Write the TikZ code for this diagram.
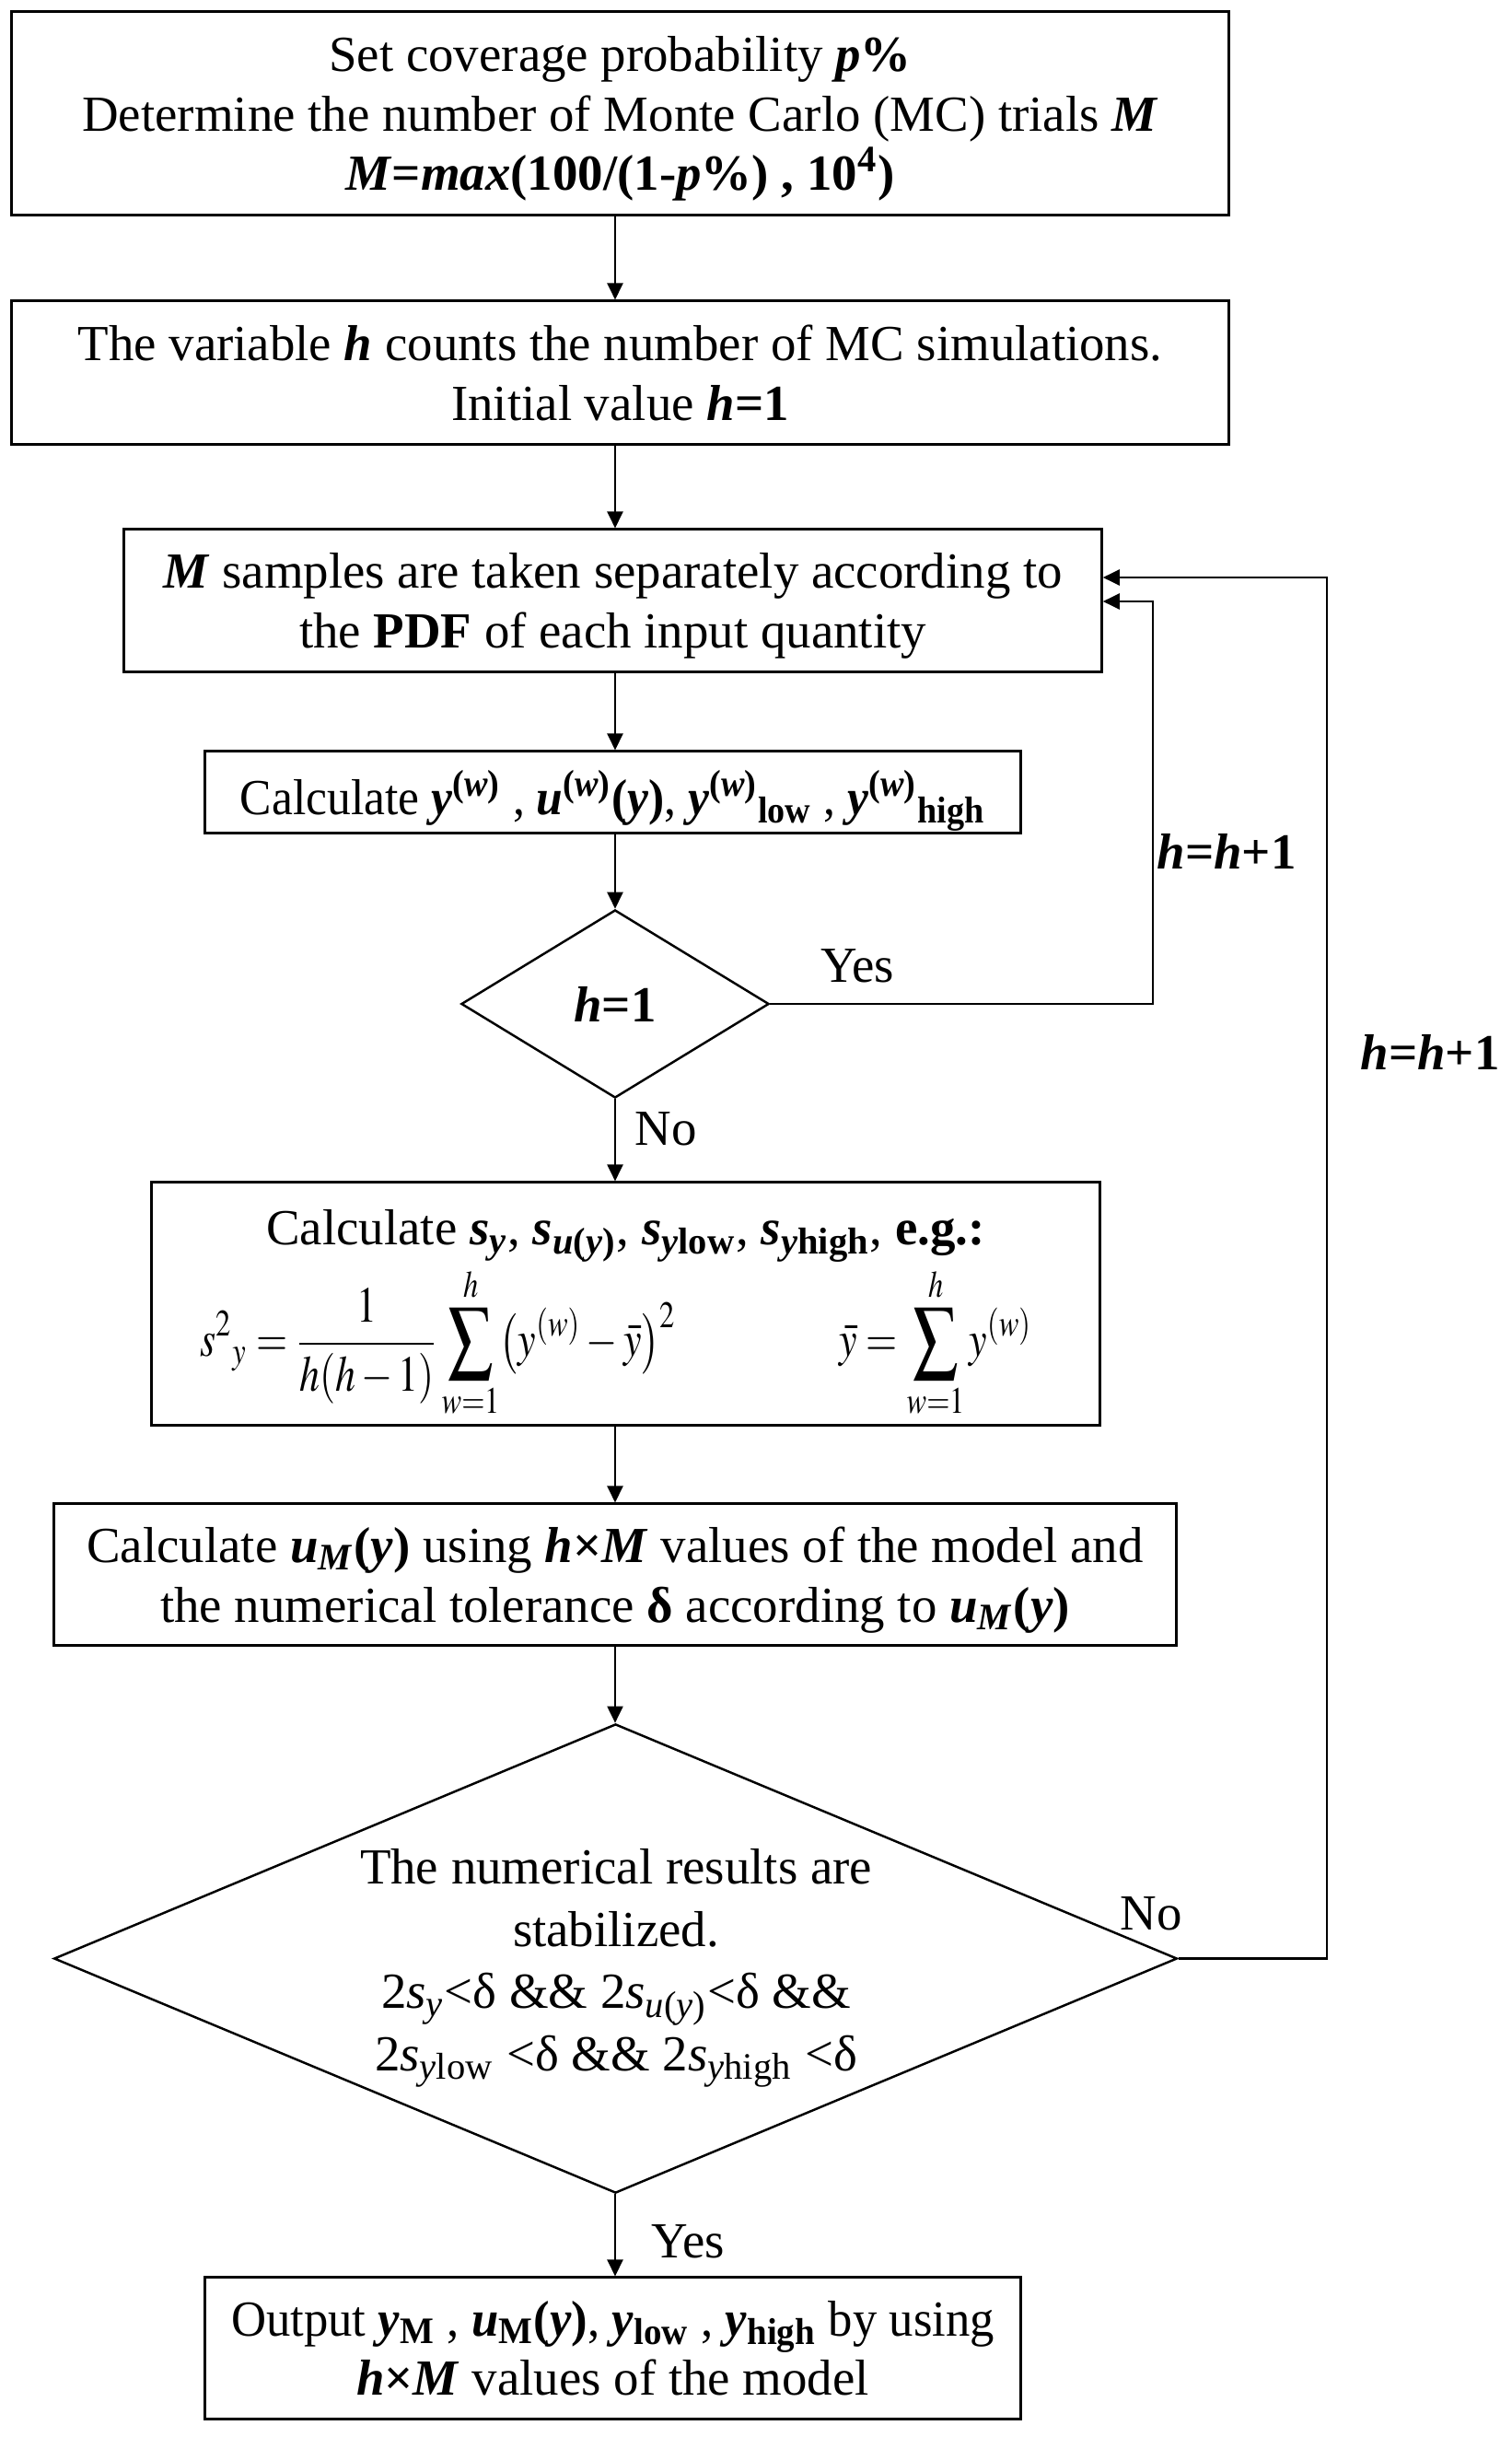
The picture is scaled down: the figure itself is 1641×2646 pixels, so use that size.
\documentclass[tikz,border=0pt]{standalone}
\usepackage{mathptmx}
\usepackage{graphicx}
\usepackage{fontspec}
\setmainfont{Liberation Serif}
\usetikzlibrary{arrows.meta,shapes.geometric}
\newcommand{\bi}[1]{\textbf{\textit{#1}}}
\newcommand{\bigsum}{\mathop{\vcenter{\hbox{\scalebox{1.1}[1.15]{$\displaystyle\sum$}}}}\limits}
\begin{document}
\begin{tikzpicture}[x=0.01cm,y=-0.01cm,
  font=\fontsize{15.6}{18.4}\selectfont,
  box/.style={draw, line width=0.85pt, align=center, inner sep=0pt, text depth=0pt},
  dia/.style={draw, diamond, line width=0.7pt, inner sep=0pt},
  arr/.style={line width=0.6pt, -{Triangle[length=0.18cm,width=0.17cm]}},
  lbl/.style={inner sep=0pt}]
\useasboundingbox (0,0) rectangle (1641,2646);
\coordinate (axis) at (668,0);

\node[box, minimum width=13.21cm, minimum height=2.20cm] (b1) at (673.5,123)
 {Set coverage probability \bi{p}\textbf{\%}\\
  Determine the number of Monte Carlo (MC) trials \bi{M}\\
  \bi{M}\textbf{=}\bi{max}\textbf{(100/(1-}\bi{p}\textbf{\%) , 10\textsuperscript{4})}};

\node[box, minimum width=13.21cm, minimum height=1.55cm] (b2) at (673.5,404.5)
 {The variable \bi{h} counts the number of MC simulations.\\
  Initial value \bi{h}\textbf{=1}};

\node[box, minimum width=10.61cm, minimum height=1.54cm] (b3) at (665.5,652)
 {\bi{M} samples are taken separately according to\\
  the \textbf{PDF} of each input quantity};

\node[box, minimum width=8.85cm, minimum height=0.88cm] (b4) at (665.5,860)
 {\scalebox{0.94}[1]{Calculate \bi{y}\textsuperscript{\textbf{(}\bi{w}\textbf{)}} ,
  \bi{u}\textsuperscript{\textbf{(}\bi{w}\textbf{)}}\textbf{(}\bi{y}\textbf{)},
  \bi{y}\textsuperscript{\textbf{(}\bi{w}\textbf{)}}\textsubscript{\textbf{low}} ,
  \bi{y}\textsuperscript{\textbf{(}\bi{w}\textbf{)}}\textsubscript{\textbf{high}}}};

\node[dia, minimum width=3.34cm, minimum height=2.04cm] (d1) at (668,1090) {};
\node[lbl] (d1t) at (d1.center) {\bi{h}\textbf{=1}};

\node[box, minimum width=10.29cm, minimum height=2.63cm] (b5) at (679.5,1415.5) {};
\node[lbl] (b5t) at (679.5,1342)
 {Calculate \bi{s}\textsubscript{\bi{y}}, \bi{s}\textsubscript{\bi{u}\textbf{(}\bi{y}\textbf{)}},
  \bi{s}\textsubscript{\bi{y}\textbf{low}}, \bi{s}\textsubscript{\bi{y}\textbf{high}}, \textbf{e.g.:}};
\node[lbl] (f1) at (476,1458)
 {\scalebox{0.8}[1]{$\displaystyle s^{2}{}_{y} = \frac{1}{h(h-1)}\bigsum_{w=1}^{h}\bigl(y^{(w)}-\bar{y}\bigr)^{2}$}};
\node[lbl] (f2) at (1016,1458)
 {\scalebox{0.8}[1]{$\displaystyle \bar{y} = \bigsum_{w=1}^{h} y^{(w)}$}};

\node[box, minimum width=12.18cm, minimum height=1.53cm] (b6) at (668,1709.5)
 {Calculate \bi{u}\textsubscript{\bi{M}}\textbf{(}\bi{y}\textbf{)} using \bi{h}\textbf{×}\bi{M} values of the model and\\
  the numerical tolerance \textbf{δ} according to \bi{u}\textsubscript{\bi{M}}\textbf{(}\bi{y}\textbf{)}};

\node[dia, minimum width=12.19cm, minimum height=5.09cm] (d2) at (668.5,2126.5) {};
\node[lbl, align=center, text depth=0pt, font=\fontsize{15.6}{19.2}\selectfont] (d2t) at (669,2128)
 {The numerical results are\\
  stabilized.\\
  2\textit{s}\textsubscript{\textit{y}}<δ \&\& 2\textit{s}\textsubscript{\textit{u}(\textit{y})}<δ \&\&\\
  2\textit{s}\textsubscript{\textit{y}low} <δ \&\& 2\textit{s}\textsubscript{\textit{y}high} <δ};

\node[box, minimum width=8.85cm, minimum height=1.53cm] (b7) at (665.5,2549.5)
 {\scalebox{0.96}[1]{Output \bi{y}\textsubscript{\textbf{M}} , \bi{u}\textsubscript{\textbf{M}}\textbf{(}\bi{y}\textbf{)},
  \bi{y}\textsubscript{\textbf{low}} , \bi{y}\textsubscript{\textbf{high}} by using}\\
  \bi{h}\textbf{×}\bi{M} values of the model};

% connectors
\draw[arr] (b1.south -| axis) -- (b2.north -| axis);
\draw[arr] (b2.south -| axis) -- (b3.north -| axis);
\draw[arr] (b3.south -| axis) -- (b4.north -| axis);
\draw[arr] (b4.south -| axis) -- (d1.north);
\draw[arr] (d1.south) -- (b5.north -| d1.south);
\draw[arr] (b5.south -| axis) -- (b6.north -| axis);
\draw[arr] (b6.south -| axis) -- (d2.north -| axis);
\draw[arr] (d2.south -| axis) -- (b7.north -| axis);

\coordinate (loopA) at (1252,653);
\coordinate (loopB) at (1441,627);
\draw[arr] (d1.east) -| (loopA) -- (loopA -| b3.east);
\draw[arr] (d2.east) -| (loopB) -- (loopB -| b3.east);

% labels
\node[lbl] (yes1) at (931,1049) {Yes};
\node[lbl] (inc1) at (1332,924) {\bi{h}\textbf{=}\bi{h}\textbf{+1}};
\node[lbl] (inc2) at (1553,1142) {\bi{h}\textbf{=}\bi{h}\textbf{+1}};
\node[lbl] (no1) at (723,1226) {No};
\node[lbl] (no2) at (1250,2078) {No};
\node[lbl] (yes2) at (747,2434) {Yes};
\end{tikzpicture}
\end{document}
